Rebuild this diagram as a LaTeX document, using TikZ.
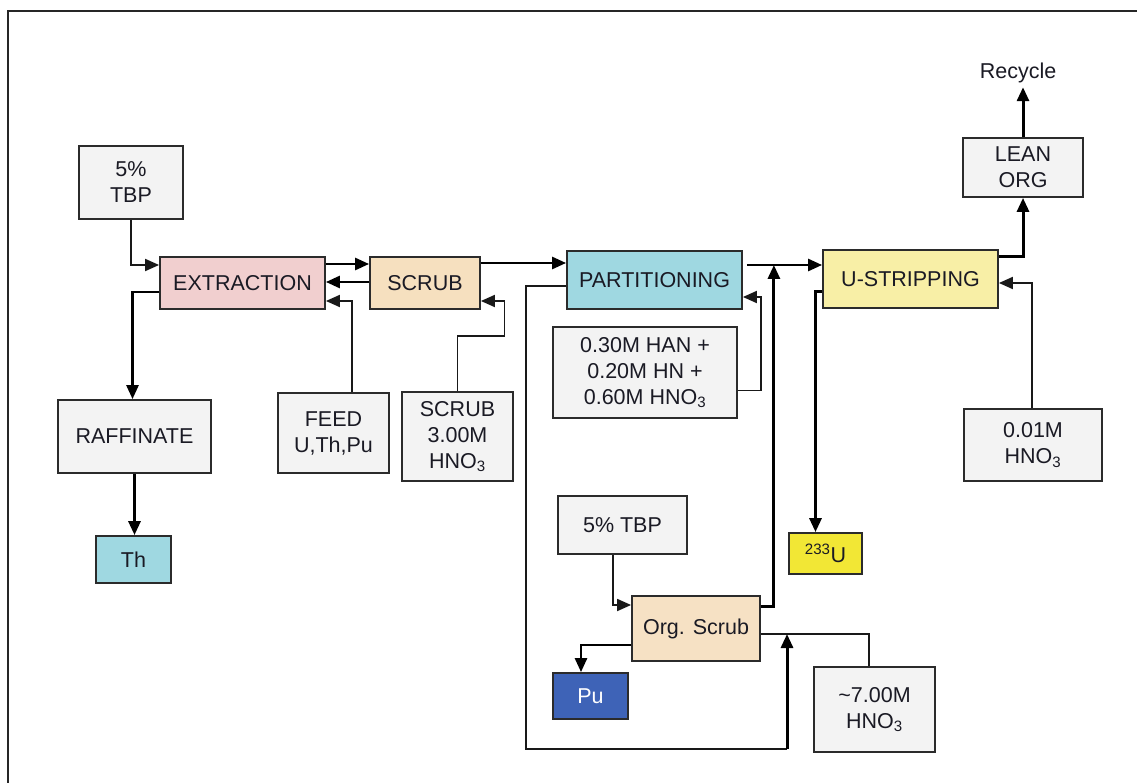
\documentclass[tikz,border=0pt]{standalone}
\usepackage{fontspec}
\setmainfont{Liberation Sans}
\usetikzlibrary{arrows.meta,calc}
\definecolor{boxline}{HTML}{2B2B2B}
\definecolor{grayfill}{HTML}{F3F3F3}
\definecolor{extrfill}{HTML}{F1CFCF}
\definecolor{scrubfill}{HTML}{F6E0BF}
\definecolor{partfill}{HTML}{9FD8E1}
\definecolor{ustripfill}{HTML}{F8EFA6}
\definecolor{orgfill}{HTML}{F6E1C4}
\definecolor{pufill}{HTML}{3E63B7}
\definecolor{ufill}{HTML}{F2E735}
\definecolor{txt}{HTML}{1A1A24}
\begin{document}
\begin{tikzpicture}[x=1pt,y=-1pt,
  box/.style={draw=boxline,line width=1.8pt,inner sep=0pt,align=center,text=txt,
    font=\fontsize{21.5}{26}\selectfont},
  gbox/.style={box,fill=grayfill},
  thin/.style={draw=black!90,line width=1.8pt},
  thick/.style={draw=black,line width=3pt},
  med/.style={draw=black,line width=2.6pt},
  arr/.style={-{Triangle[length=14pt,width=12pt]}}]
\useasboundingbox (0,0) rectangle (1137,783);
\draw[line width=2pt,draw=black!85] (8,783) -- (8,11) -- (1137,11);
% nodes
\node[gbox,minimum width=104pt,minimum height=73pt] (tbp1) at (131,182.5) {5\%\\TBP};
\node[box,fill=extrfill,minimum width=165pt,minimum height=52pt] (extr) at (242.5,283) {EXTRACTION};
\node[box,fill=scrubfill,minimum width=110pt,minimum height=52pt] (scrub) at (425,283) {SCRUB};
\node[box,fill=partfill,minimum width=175pt,minimum height=58pt] (part) at (654.5,280) {PARTITIONING};
\node[gbox,minimum width=184pt,minimum height=91pt] (han) at (645,372.5) {0.30M HAN +\\0.20M HN +\\0.60M HNO\textsubscript{3}};
\node[gbox,minimum width=111pt,minimum height=80pt] (feed) at (333.5,433) {FEED\\U,Th,Pu};
\node[gbox,minimum width=111pt,minimum height=89pt] (scrubin) at (457.5,436.5) {SCRUB\\3.00M\\HNO\textsubscript{3}};
\node[gbox,minimum width=153pt,minimum height=73pt] (raff) at (134.5,436.5) {RAFFINATE};
\node[box,fill=partfill,minimum width=75pt,minimum height=47pt] (th) at (133.5,559.5) {Th};
\node[gbox,minimum width=129pt,minimum height=58pt] (tbp2) at (622.5,525) {5\% TBP};
\node[box,fill=orgfill,minimum width=128pt,minimum height=65pt] (org) at (696,628.5) {Org. Scrub};
\node[box,fill=pufill,text=white,minimum width=75pt,minimum height=46pt] (pu) at (590.5,696) {Pu};
\node[gbox,minimum width=121pt,minimum height=85pt] (hnoa) at (874.5,709.5) {\textasciitilde7.00M\\HNO\textsubscript{3}};
\node[box,fill=ufill,minimum width=73pt,minimum height=41pt] (u) at (825.5,553.5) {\textsuperscript{233}U};
\node[box,fill=ustripfill,minimum width=175pt,minimum height=58pt] (ustrip) at (910.5,279) {U-STRIPPING};
\node[gbox,minimum width=120pt,minimum height=59pt] (lean) at (1023,167.5) {LEAN\\ORG};
\node[gbox,minimum width=138pt,minimum height=72pt] (hnob) at (1033,445) {0.01M\\HNO\textsubscript{3}};
\node[text=txt,font=\fontsize{21.5}{26}\selectfont,inner sep=4pt] (rec) at (1018,73) {Recycle};
% connectors
\draw[thin,arr] (tbp1.south) |- ([yshift=18pt]extr.west);
\draw[med,arr] ([yshift=19pt]extr.east) -- ([yshift=19pt]scrub.west);
\draw[med,arr] ([yshift=1pt]scrub.west) -- ([yshift=1pt]extr.east);
\draw[thin,arr] ([xshift=18.5pt]feed.north) |- ([yshift=-18pt]extr.east);
\draw[thin,arr] (scrubin.north) -- ++(0,-55) -- ++(47,0) |- ([yshift=-18pt]scrub.east);
\draw[med,arr] ([yshift=20pt]scrub.east) -- ([yshift=20pt]scrub.east -| part.west);
\draw[med,arr] ([yshift=-9pt]extr.west) -| ([xshift=-2pt]raff.north);
\draw[thick,arr] (raff.south) -- (raff.south |- th.north);
\coordinate (pline) at ([yshift=15pt]part.east);
\draw[med,arr] ([xshift=4pt]pline) -- (pline -| ustrip.west);
\draw[thin,arr] ([yshift=-18pt]han.east) -- ++(23,0) |- ([yshift=-17pt]part.east);
\draw[thick,arr] ([yshift=22.5pt]org.east) -- ++(13,0) coordinate (oj) -- (oj |- pline);
\draw[thick,arr] ([yshift=-13pt]ustrip.west) -| ([xshift=-10pt]u.north);
\draw[thick,arr] ([yshift=22pt]ustrip.east) -| (lean.south);
\draw[thick,arr] (lean.north) -- (lean.north |- rec.south);
\draw[thin,arr] ([xshift=-1pt]hnob.north) |- ([yshift=-4pt]ustrip.east);
\draw[thin,arr] ([xshift=-9.5pt]tbp2.south) |- ([yshift=23.5pt]org.west);
\draw[med,arr] ([yshift=-16.5pt]org.west) -| ([xshift=-9.5pt]pu.north);
\draw[thin] ([xshift=-5.5pt]hnoa.north) |- ([yshift=-5.5pt]org.east);
\coordinate (lb) at (526,749);
\coordinate (lr) at (787,749);
\coordinate (lend) at (787,634);
\draw[thin] ([yshift=-6pt]part.west) -| (lb) -- (lr);
\draw[thick,arr] (lr) -- (lend);
\end{tikzpicture}
\end{document}
